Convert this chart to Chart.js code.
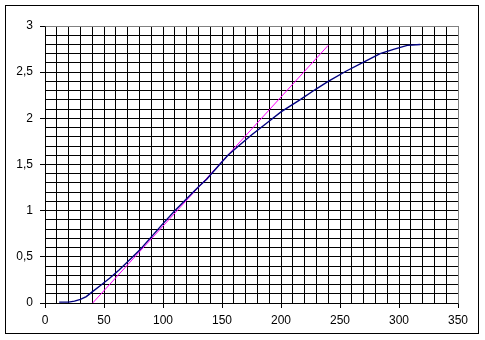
<!DOCTYPE html>
<html>
<head>
<meta charset="utf-8">
<script src="https://cdn.jsdelivr.net/npm/chart.js@4"></script>
<style>
  html, body { margin: 0; padding: 0; background: #fff; }
  canvas { display: block; }
</style>
</head>
<body>
<canvas id="curveChart" width="485" height="340"></canvas>
<script>
// Axis labels (decimal comma on the value axis)
const xTickLabels = ['0', '50', '100', '150', '200', '250', '300', '350'];
const yTickLabels = ['0', '0,5', '1', '1,5', '2', '2,5', '3'];

// Measured curve
const measuredX = [12, 20, 25, 30, 35, 40, 47, 55, 63, 72, 80, 89, 100, 110, 120, 131, 137, 148, 155, 164, 175, 188, 200, 216, 230, 240, 255, 270, 284, 296, 307, 318];
const measuredY = [0.01, 0.01, 0.02, 0.04, 0.07, 0.12, 0.19, 0.27, 0.36, 0.47, 0.57, 0.70, 0.86, 1.0, 1.13, 1.27, 1.34, 1.50, 1.60, 1.70, 1.82, 1.95, 2.07, 2.20, 2.32, 2.40, 2.51, 2.61, 2.70, 2.75, 2.79, 2.80];

// Straight fit line
const fitX = [40.4, 240];
const fitY = [0, 2.79];

const toPoints = (xs, ys) => xs.map((x, i) => ({ x: x, y: ys[i] }));

// Build ticks every `step` between min and max (grid), labels only on majors
function stepTicks(scale, step) {
  const ticks = [];
  const n = Math.round((scale.max - scale.min) / step);
  for (let i = 0; i <= n; i++) {
    ticks.push({ value: Math.round((scale.min + i * step) * 1000) / 1000 });
  }
  scale.ticks = ticks;
}

const frame = {
  id: 'frame',
  beforeDraw(chart) {
    const ctx = chart.ctx;
    ctx.save();
    ctx.fillStyle = '#fff';
    ctx.fillRect(0, 0, chart.width, chart.height);
    ctx.restore();
  },
  afterDraw(chart) {
    const ctx = chart.ctx;
    const a = chart.chartArea;
    ctx.save();
    ctx.lineWidth = 1;
    // gray plot border on top and right
    ctx.strokeStyle = '#808080';
    ctx.beginPath();
    ctx.moveTo(Math.round(a.left) + 0.5, Math.round(a.top) + 0.5);
    ctx.lineTo(Math.round(a.right) + 0.5, Math.round(a.top) + 0.5);
    ctx.lineTo(Math.round(a.right) + 0.5, Math.round(a.bottom) + 0.5);
    ctx.stroke();
    // outer frame
    ctx.strokeStyle = '#000';
    ctx.strokeRect(5.5, 5.5, 473, 328);
    ctx.restore();
  }
};

new Chart(document.getElementById('curveChart'), {
  type: 'scatter',
  data: {
    datasets: [
      {
        data: toPoints(fitX, fitY),
        showLine: true,
        borderColor: '#ff00ff',
        borderWidth: 1,
        pointRadius: 0,
        order: 2
      },
      {
        data: toPoints(measuredX, measuredY),
        showLine: true,
        borderColor: '#000080',
        borderWidth: 1.4,
        pointRadius: 0,
        order: 1
      }
    ]
  },
  options: {
    responsive: false,
    animation: false,
    layout: { padding: { left: 0, top: 26, right: 27, bottom: 0 } },
    plugins: {
      legend: { display: false },
      tooltip: { enabled: false }
    },
    scales: {
      x: {
        type: 'linear',
        min: 0,
        max: 350,
        afterBuildTicks: scale => stepTicks(scale, 10),
        afterFit: scale => { scale.height = 37; },
        ticks: {
          autoSkip: false,
          maxRotation: 0,
          padding: 5,
          color: '#000',
          font: { family: 'Liberation Sans, Arial, sans-serif', size: 12 },
          callback: v => (v % 50 === 0 ? xTickLabels[v / 50] : '')
        },
        grid: {
          color: c => (c.tick && c.tick.value === 350 ? '#808080' : '#000'),
          lineWidth: 1,
          tickLength: 5,
          tickColor: c => (c.tick && c.tick.value % 50 === 0 ? '#000' : 'rgba(0,0,0,0)')
        },
        border: { color: '#000', width: 1 }
      },
      y: {
        type: 'linear',
        min: 0,
        max: 3,
        afterBuildTicks: scale => stepTicks(scale, 0.1),
        afterFit: scale => { scale.width = 45; },
        ticks: {
          autoSkip: false,
          padding: 7,
          color: '#000',
          font: { family: 'Liberation Sans, Arial, sans-serif', size: 12 },
          callback: v => {
            const k = Math.round(v * 10);
            return k % 5 === 0 ? yTickLabels[k / 5] : '';
          }
        },
        grid: {
          color: c => (c.tick && Math.round(c.tick.value * 10) === 30 ? '#808080' : '#000'),
          lineWidth: 1,
          tickLength: 5,
          tickColor: c => (c.tick && Math.round(c.tick.value * 10) % 5 === 0 ? '#000' : 'rgba(0,0,0,0)')
        },
        border: { color: '#000', width: 1 }
      }
    }
  },
  plugins: [frame]
});
</script>
</body>
</html>
